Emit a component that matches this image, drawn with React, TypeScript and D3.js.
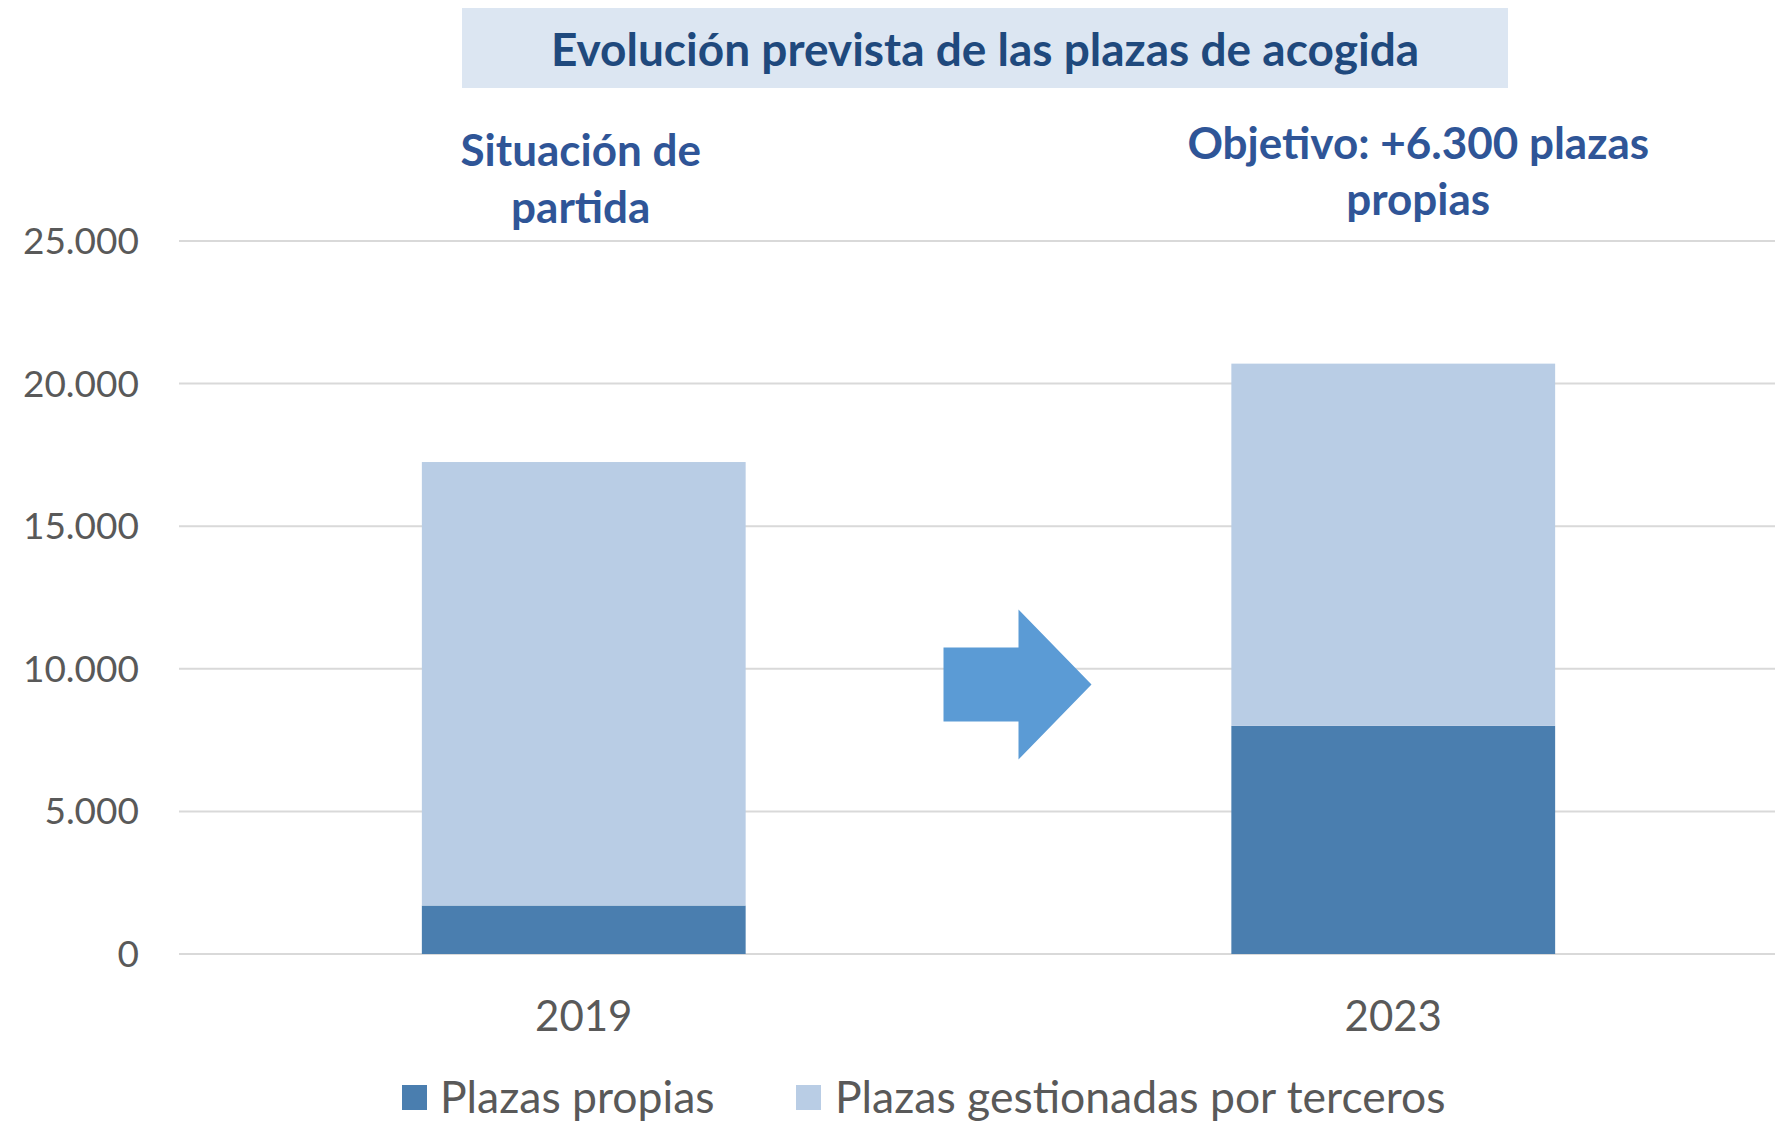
import React, { useEffect } from 'react';
import * as d3 from 'd3';

const categories = ['2019', '2023'];
const propias = [1700, 8000];
const terceros = [15550, 12700];
const yTicks = [0, 5000, 10000, 15000, 20000, 25000];
const seriesNames = ['Plazas propias', 'Plazas gestionadas por terceros'];
const seriesColors = ['#4A7EAF', '#B9CDE5'];

const W = 1775;
const H = 1121;
const FONT = "Lato, 'Open Sans', sans-serif";

export default function App() {
  useEffect(() => {
    document.body.style.margin = '0';
  }, []);

  const x = d3.scaleBand<string>()
    .domain(categories)
    .range([179, 1798])
    .paddingInner(0.6)
    .paddingOuter(0.3);

  const y = d3.scaleLinear().domain([0, 25000]).range([954, 241]);

  const rows = categories.map((c, i) => ({ cat: c, propias: propias[i], terceros: terceros[i] }));
  const stack = d3.stack<any>().keys(['propias', 'terceros'])(rows);

  const fmt = (v: number) => d3.format(',')(v).replace(/,/g, '.');

  // arrow between the two bars
  const mid = ((x('2019') as number) + x.bandwidth() + (x('2023') as number)) / 2;
  const ay = y(9450);
  const arrow = d3.line()([
    [mid - 45, ay - 37],
    [mid + 30, ay - 37],
    [mid + 30, ay - 75],
    [mid + 103, ay],
    [mid + 30, ay + 75],
    [mid + 30, ay + 37],
    [mid - 45, ay + 37],
  ]) + 'Z';

  const c0 = (x('2019') as number) + x.bandwidth() / 2;
  const c1 = (x('2023') as number) + x.bandwidth() / 2;

  return (
    <svg width={W} height={H} style={{ display: 'block', background: '#fff' }} fontFamily={FONT}>
      {/* title */}
      <rect x={462} y={8} width={1046} height={80} fill="#DCE6F2" />
      <text x={985} y={49} dy="0.36em" textAnchor="middle" fontSize={46} fontWeight="bold" fill="#1F497D">
        Evolución prevista de las plazas de acogida
      </text>

      {/* grid */}
      {yTicks.map(t => (
        <g key={t}>
          <line x1={179} x2={W} y1={y(t)} y2={y(t)} stroke="#D9D9D9" strokeWidth={2} />
          <text x={139} y={y(t)} dy="0.35em" textAnchor="end" fontSize={37} fill="#595959">
            {fmt(t)}
          </text>
        </g>
      ))}

      {/* bars */}
      {stack.map((s, si) => (
        <g key={si} fill={seriesColors[si]}>
          {s.map((d: any) => (
            <rect
              key={d.data.cat}
              x={x(d.data.cat)}
              width={x.bandwidth()}
              y={y(d[1])}
              height={y(d[0]) - y(d[1])}
            />
          ))}
        </g>
      ))}

      {/* category labels */}
      {categories.map(c => (
        <text key={c} x={(x(c) as number) + x.bandwidth() / 2} y={1016} dy="0.35em"
          textAnchor="middle" fontSize={42} fill="#595959">{c}</text>
      ))}

      <path d={arrow} fill="#5B9BD5" />

      {/* annotations */}
      <g fontSize={44} fontWeight="bold" fill="#2F5597" textAnchor="middle">
        <text x={c0 - 3} y={151} dy="0.35em">Situación de</text>
        <text x={c0 - 3} y={208} dy="0.35em">partida</text>
        <text x={c1 + 25} y={144} dy="0.35em">Objetivo: +6.300 plazas</text>
        <text x={c1 + 25} y={200} dy="0.35em">propias</text>
      </g>

      {/* legend */}
      <g fontSize={44.5} fill="#595959">
        <rect x={402} y={1085} width={25} height={25} fill={seriesColors[0]} />
        <text x={440} y={1097} dy="0.35em">{seriesNames[0]}</text>
        <rect x={796} y={1085} width={25} height={25} fill={seriesColors[1]} />
        <text x={835} y={1097} dy="0.35em">{seriesNames[1]}</text>
      </g>
    </svg>
  );
}
